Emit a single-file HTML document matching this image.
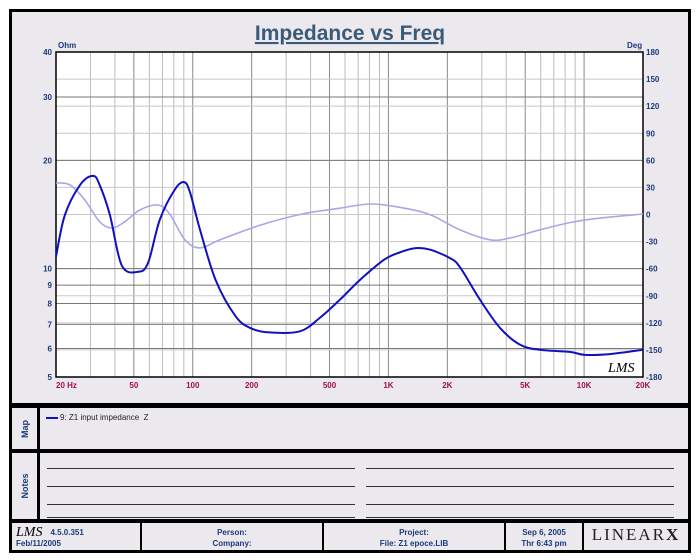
<!DOCTYPE html>
<html><head><meta charset="utf-8">
<style>
html,body{margin:0;padding:0;background:#fff;}
body{width:700px;height:560px;position:relative;overflow:hidden;font-family:"Liberation Sans",sans-serif;}
.box{position:absolute;background:#ece9ee;border:3px solid #000;box-sizing:border-box;}
.side{position:absolute;left:0;width:28px;border-right:3px solid #000;height:100%;box-sizing:border-box;}
.side span{position:absolute;left:50%;top:50%;transform:translate(-50%,-50%) rotate(-90deg);color:#1a3a7a;font-weight:bold;font-size:9px;}
.nl{position:absolute;height:1px;background:#333;}
.ft{position:absolute;top:0;height:100%;border-right:2px solid #000;box-sizing:border-box;color:#1a3a7a;font-weight:bold;font-size:8px;text-align:center;line-height:11px;padding-top:4px;}
</style></head><body>
<div class="box" style="left:9px;top:9px;width:682px;height:397px;"></div>
<svg id="chart" width="700" height="560" style="position:absolute;left:0;top:0;"></svg>
<div class="box" style="left:9px;top:405px;width:682px;height:47px;">
  <div class="side"><span>Map</span></div>
  <div style="position:absolute;left:34px;top:5px;font-size:8px;color:#222;"><span style="display:inline-block;width:12px;height:2px;background:#1010c0;vertical-align:middle;margin-right:2px;"></span>9: Z1 input impedance&nbsp; Z</div>
</div>
<div class="box" style="left:9px;top:450px;width:682px;height:72px;">
  <div class="side"><span>Notes</span></div>
  <div class="nl" style="left:35px;width:308px;top:15px"></div><div class="nl" style="left:354px;width:308px;top:15px"></div>
  <div class="nl" style="left:35px;width:308px;top:33px"></div><div class="nl" style="left:354px;width:308px;top:33px"></div>
  <div class="nl" style="left:35px;width:308px;top:51px"></div><div class="nl" style="left:354px;width:308px;top:51px"></div>
  <div class="nl" style="left:35px;width:308px;top:64px"></div><div class="nl" style="left:354px;width:308px;top:64px"></div>
</div>
<div class="box" style="left:9px;top:520px;width:682px;height:33px;">
  <div class="ft" style="left:0;width:130px;text-align:left;padding-left:4px;"><span style="font-family:'Liberation Serif',serif;font-style:italic;font-size:14px;font-weight:normal;color:#000;float:left;margin-right:8px;">LMS</span>4.5.0.351<br>Feb/11/2005</div>
  <div class="ft" style="left:130px;width:182px;">Person:<br>Company:</div>
  <div class="ft" style="left:312px;width:182px;">Project:<br>File: Z1 epoce.LIB</div>
  <div class="ft" style="left:494px;width:78px;">Sep 6, 2005<br>Thr 6:43 pm</div>
  <div class="ft" style="left:572px;width:104px;border:none;font-family:'Liberation Serif',serif;font-size:17px;font-weight:normal;color:#222;letter-spacing:2px;line-height:20px;padding-top:2px;">LINEAR<b>X</b></div>
</div>
<script>
const zFreq=[20,22.2,26.6,30.9,33.4,37.7,43.4,52.6,59.2,67.9,81,90.3,96.8,109,130.9,164.8,195.9,247,353,446,565,715,953,1142,1363,1625,2061,2318,2936,3714,4700,5944,8460,10100,13540,20000];
const zOhm=[10.8,14.1,17.1,18.1,17.1,14.1,10.2,9.8,10.4,13.7,16.6,17.4,16.3,12.8,9.3,7.4,6.85,6.65,6.7,7.3,8.2,9.3,10.6,11.1,11.4,11.3,10.7,10.1,8.2,6.85,6.15,5.95,5.87,5.76,5.79,5.95];
const pFreq=[20,23.6,28.1,33.4,38.6,45,53.7,66.4,76.5,91.2,109,138,220,353,565,804,1142,1625,2318,3300,4180,5944,8460,12040,20000];
const pDeg=[35,32.7,16,-8,-15,-8,5,10.5,0,-28,-37,-28,-12,0,7,11.6,8,0,-17,-28,-26,-17,-9,-4,0.5];
const xTicks=["20 Hz","50","100","200","500","1K","2K","5K","10K","20K"];
const xTickVals=[20,50,100,200,500,1000,2000,5000,10000,20000];
const yTicks=[5,6,7,8,9,10,20,30,40];
const pTicks=[180,150,120,90,60,30,0,-30,-60,-90,-120,-150,-180];

const L=56,R=643,T=52,B=377;
const X=f=>L+(R-L)*Math.log10(f/20)/3;
const Y=z=>B-(B-T)*Math.log(z/5)/Math.log(8);
const P=d=>T+(B-T)*(180-d)/360;
const svg=document.getElementById('chart');
const NS='http://www.w3.org/2000/svg';
function mk(tag,at){const e=document.createElementNS(NS,tag);for(const k in at)e.setAttribute(k,at[k]);svg.appendChild(e);return e;}
function smooth(pts){let d='M'+pts[0][0]+','+pts[0][1];
 for(let i=0;i<pts.length-1;i++){const p0=pts[Math.max(0,i-1)],p1=pts[i],p2=pts[i+1],p3=pts[Math.min(pts.length-1,i+2)];
  const c1=[p1[0]+(p2[0]-p0[0])/6,p1[1]+(p2[1]-p0[1])/6],c2=[p2[0]-(p3[0]-p1[0])/6,p2[1]-(p3[1]-p1[1])/6];
  d+=' C'+c1[0].toFixed(1)+','+c1[1].toFixed(1)+' '+c2[0].toFixed(1)+','+c2[1].toFixed(1)+' '+p2[0].toFixed(1)+','+p2[1].toFixed(1);}
 return d;}
let r=mk('rect',{x:L,y:T,width:R-L,height:B-T,fill:'#fff'});


for(let d=10;d<=10000;d*=10){for(let m=1;m<=9;m++){const f=d*m;if(f<20||f>20000)continue;const major=(m===1||m===2||m===5);
 let g=mk('line',{x1:X(f),x2:X(f),y1:T,y2:B,stroke:major?'#888':'#bbb','stroke-width':1});
 
 }}
pTicks.forEach(d=>{let g=mk('line',{x1:L,x2:R,y1:P(d),y2:P(d),stroke:'#c8c8c8','stroke-width':1});
 
 });
yTicks.forEach(z=>{let g=mk('line',{x1:L,x2:R,y1:Y(z),y2:Y(z),stroke:'#777','stroke-width':1});
 
 
 let t=mk('text',{x:L-4,y:Y(z)+3,'text-anchor':'end','font-size':8,'font-weight':'bold',fill:'#1a3a7a'});t.textContent=z;
 
 });
pTicks.forEach(d=>{let t=mk('text',{x:R+3,y:P(d)+3,'font-size':8,'font-weight':'bold',fill:'#1a3a7a'});t.textContent=d;
 
 });
xTicks.forEach((s,i)=>{let t=mk('text',{x:X(xTickVals[i]),y:B+11,'text-anchor':i===0?'start':'middle','font-size':8,'font-weight':'bold',fill:'#a0104a'});t.textContent=s;
 
 });
mk('rect',{x:L,y:T,width:R-L,height:B-T,fill:'none',stroke:'#000','stroke-width':1.5});
let ph=mk('path',{d:smooth(pFreq.map((f,i)=>[X(f),P(pDeg[i])])),fill:'none',stroke:'#a8a8e8','stroke-width':1.6});


let zc=mk('path',{d:smooth(zFreq.map((f,i)=>[X(f),Y(zOhm[i])])),fill:'none',stroke:'#1010c0','stroke-width':2});


let t1=mk('text',{x:350,y:40,'text-anchor':'middle','font-size':21,'font-weight':'bold',fill:'#3a5a7a','text-decoration':'underline'});t1.textContent='Impedance vs Freq';


let t2=mk('text',{x:58,y:48,'font-size':8,'font-weight':'bold',fill:'#1a3a7a'});t2.textContent='Ohm';


let t3=mk('text',{x:627,y:48,'font-size':8,'font-weight':'bold',fill:'#1a3a7a'});t3.textContent='Deg';


let t4=mk('text',{x:608,y:372,'font-size':14,'font-style':'italic','font-family':'Liberation Serif, serif',fill:'#000'});t4.textContent='LMS';


</script>
</body></html>
